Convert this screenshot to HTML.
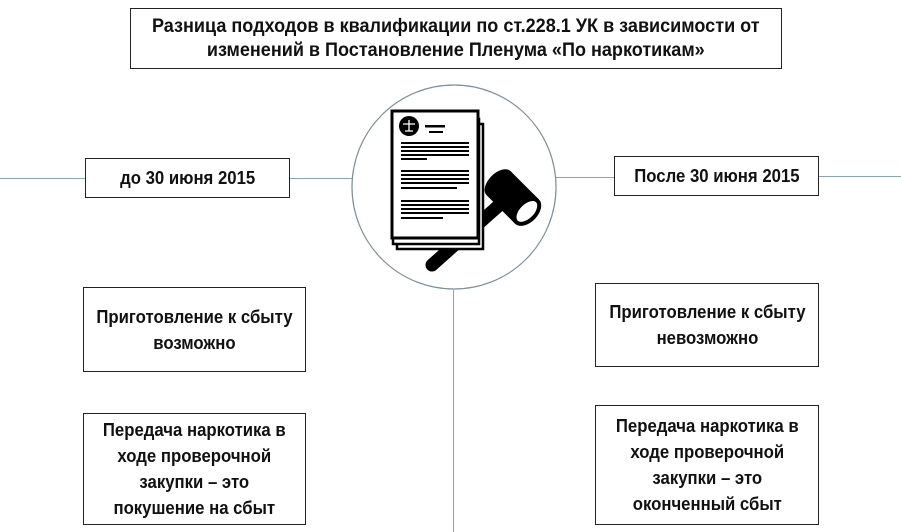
<!DOCTYPE html>
<html><head><meta charset="utf-8"><style>
body{margin:0;width:901px;height:532px;background:#fff;position:relative;overflow:hidden;font-family:"Liberation Sans",sans-serif;font-weight:bold;color:#111}
.b{position:absolute;border:1.5px solid #222;box-sizing:border-box;display:flex;align-items:center;justify-content:center;text-align:center;font-size:18px;line-height:26px;white-space:nowrap}
.b span{display:inline-block;transform:scaleX(0.93)}
.l{position:absolute;background:#8aa6bd;height:1px}
</style></head><body>
<div class="b" style="left:130px;top:8px;width:652px;height:61px;font-size:19px;line-height:24px"><span style="transform:scaleX(0.95)">Разница подходов в квалификации по ст.228.1 УК в зависимости от<br>изменений в Постановление Пленума «По наркотикам»</span></div>
<div class="l" style="left:0;top:178px;width:85px"></div>
<div class="l" style="left:290px;top:178px;width:62px"></div>
<div class="l" style="left:555px;top:177px;width:60px"></div>
<div class="l" style="left:819px;top:176px;width:82px"></div>
<div class="l" style="left:453px;top:290px;width:1px;height:242px"></div>
<div class="b" style="left:85px;top:158px;width:205px;height:40px"><span>до 30 июня 2015</span></div>
<div class="b" style="left:614px;top:156px;width:205px;height:40px"><span>После 30 июня 2015</span></div>
<div class="b" style="left:83px;top:287px;width:223px;height:85px"><span>Приготовление к сбыту<br>возможно</span></div>
<div class="b" style="left:83px;top:413px;width:223px;height:112px"><span>Передача наркотика в<br>ходе проверочной<br>закупки – это<br>покушение на сбыт</span></div>
<div class="b" style="left:595px;top:283px;width:224px;height:84px"><span>Приготовление к сбыту<br>невозможно</span></div>
<div class="b" style="left:595px;top:405px;width:224px;height:120px"><span>Передача наркотика в<br>ходе проверочной<br>закупки – это<br>оконченный сбыт</span></div>
<svg style="position:absolute;left:0;top:0" width="901" height="532">
<circle cx="454" cy="187" r="102" fill="none" stroke="#7d8f9e" stroke-width="1.2"/>
<line x1="432" y1="265" x2="505" y2="200" stroke="#000" stroke-width="13" stroke-linecap="round"/>
<g transform="rotate(-45 512 198)"><rect x="496" y="178" width="34" height="40" fill="#000"/><ellipse cx="513" cy="178" rx="17" ry="10" fill="#000"/><ellipse cx="513" cy="218" rx="15" ry="9" fill="#fff" stroke="#000" stroke-width="4"/></g>
<rect x="397" y="124" width="86" height="125" fill="#fff" stroke="#000" stroke-width="2.5"/>
<rect x="393" y="119" width="86" height="125" fill="#fff" stroke="#000" stroke-width="2.5"/>
<rect x="392" y="111" width="86" height="127" fill="#fff" stroke="#000" stroke-width="3"/>
<circle cx="409" cy="126" r="10" fill="#000"/>
<path d="M403 124 h12 M409 120 v11 M405 131 h8" stroke="#fff" stroke-width="1.3"/>
<rect x="425" y="125" width="20" height="2.5" fill="#000"/><rect x="429" y="131" width="14" height="2" fill="#000"/>
<g fill="#000">
<rect x="401" y="142" width="68" height="2"/><rect x="401" y="146" width="68" height="2"/><rect x="401" y="150" width="68" height="2"/><rect x="401" y="154" width="68" height="2"/><rect x="401" y="158" width="26" height="2"/>
<rect x="401" y="170" width="68" height="2"/><rect x="401" y="174" width="68" height="2"/><rect x="401" y="178" width="68" height="2"/><rect x="401" y="182" width="68" height="2"/><rect x="401" y="187" width="56" height="2"/>
<rect x="401" y="200" width="68" height="2"/><rect x="401" y="204" width="68" height="2"/><rect x="401" y="208" width="68" height="2"/><rect x="401" y="212" width="68" height="2"/><rect x="401" y="217" width="42" height="2"/>
</g>
</svg>
</body></html>
